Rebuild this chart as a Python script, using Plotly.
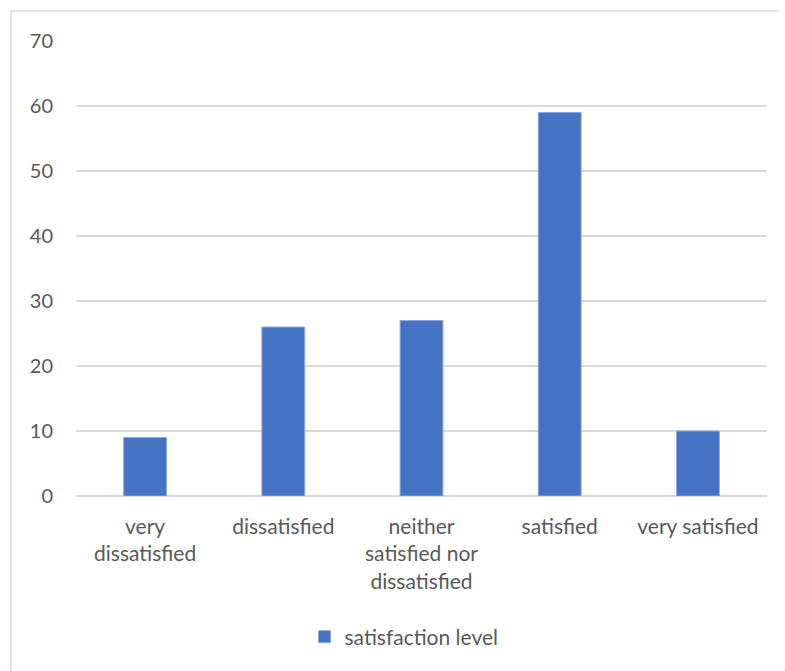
import plotly.graph_objects as go

categories = ["very<br>dissatisfied", "dissatisfied", "neither<br>satisfied nor<br>dissatisfied", "satisfied", "very satisfied"]
values = [9, 26, 27, 59, 10]
series_name = "satisfaction level"
y_ticks = [0, 10, 20, 30, 40, 50, 60, 70]

# page body has an 8px margin: compensate
OFF = 8
W, H = 785 - OFF, 671 - OFF
L, R, T, B = 76 - OFF, 18, 41 - OFF, 175
pw, ph = W - L - R, H - T - B

fig = go.Figure()
fig.add_trace(go.Bar(
    x=categories, y=values, name=series_name,
    marker=dict(color="#4472C4", line=dict(color="#8FAADC", width=1)),
    showlegend=True,
))

fam = "Lato, Carlito, 'Noto Sans', sans-serif"
font = dict(family=fam, size=19, color="#595959")
xfont = dict(family=fam, size=21, color="#595959")

fig.update_layout(
    width=W, height=H,
    margin=dict(l=L, r=R, t=T, b=B, autoexpand=False),
    paper_bgcolor="white", plot_bgcolor="white",
    font=font,
    bargap=0.69,
    showlegend=True,
    legend=dict(orientation="h", x=(404 - 76) / pw, xanchor="center", y=-(637 - 496) / ph, yanchor="middle",
                font=xfont, itemwidth=30),
    xaxis=dict(showgrid=False, showline=False, ticks="", tickangle=0,
               tickfont=xfont, ticklabelstandoff=16),
    yaxis=dict(range=[0, 70], tickvals=y_ticks, showgrid=True, gridcolor="#D9D9D9", gridwidth=1.5,
               zeroline=True, zerolinecolor="#D9D9D9", zerolinewidth=1.5,
               tickfont=dict(family=fam, size=20, color="#595959"),
               showline=False, ticks="", ticklabelstandoff=22),
    shapes=[dict(type="rect", xref="paper", yref="paper",
                 x0=(11 - 76) / pw, x1=(781 - 76) / pw,
                 y0=-(671 + 5 - 496) / ph, y1=1 + (41 - 11) / ph,
                 line=dict(color="#D9D9D9", width=1.5), fillcolor="rgba(0,0,0,0)", layer="below")],
)

fig.write_html("out.html")
